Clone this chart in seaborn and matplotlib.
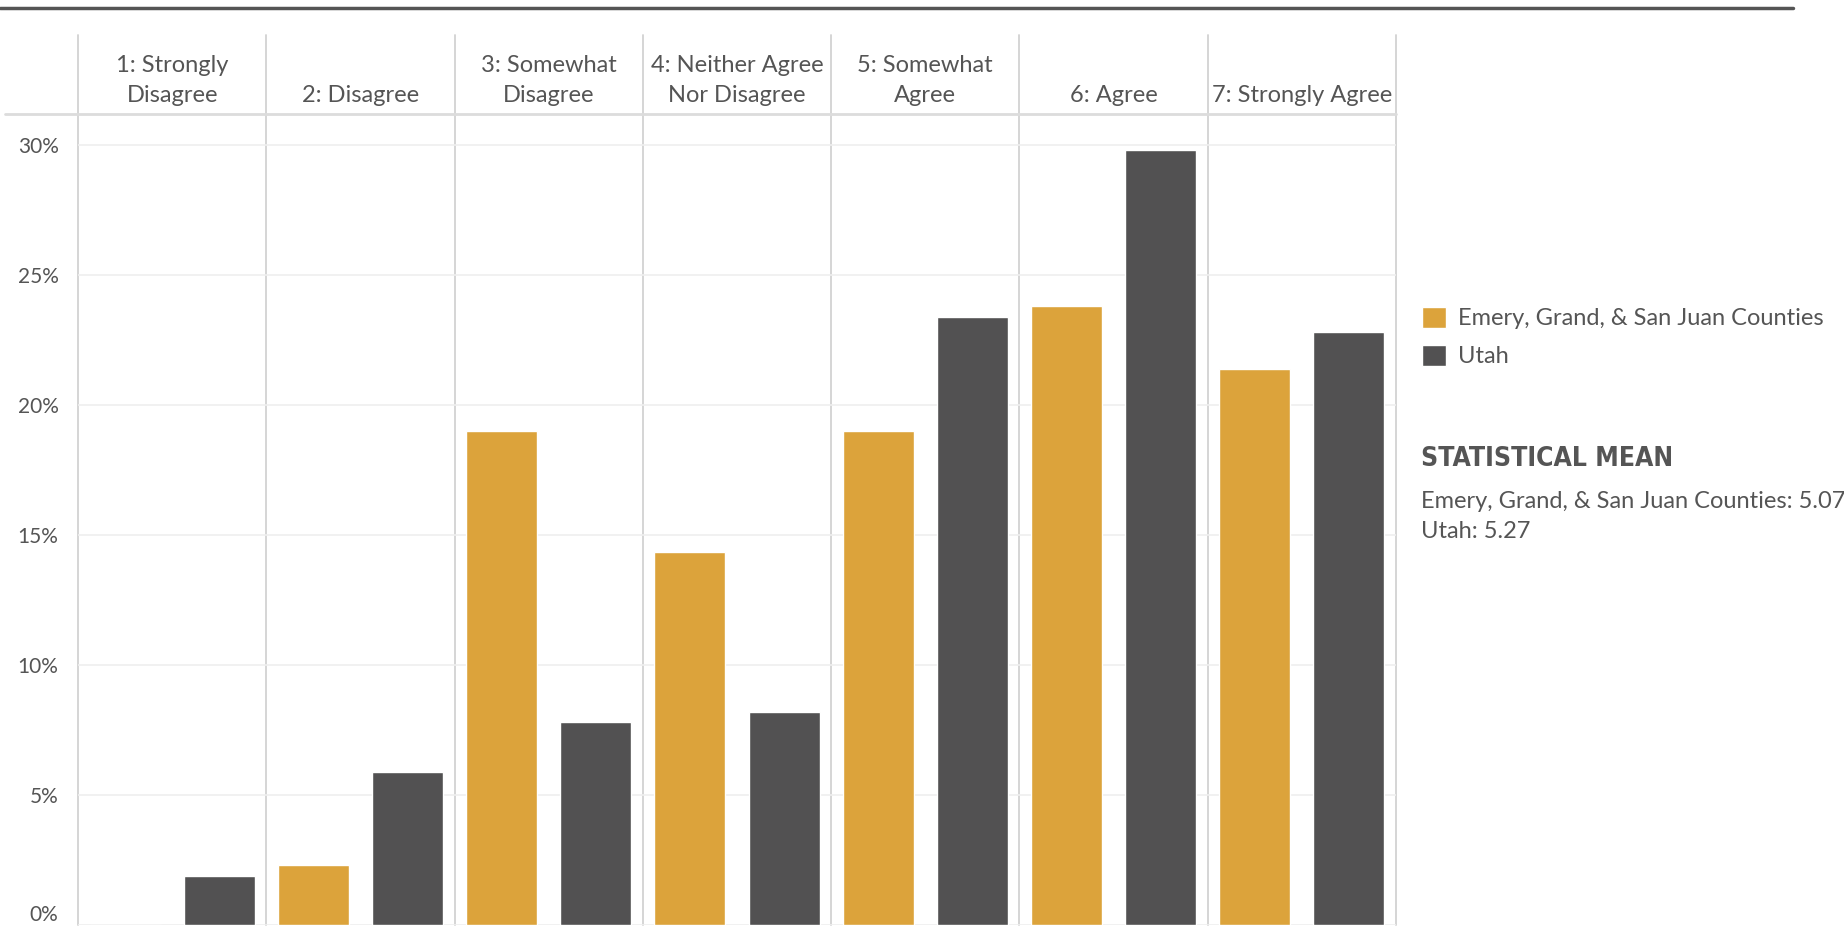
import pandas as pd
import matplotlib.pyplot as plt
import seaborn as sns
from matplotlib import font_manager
from matplotlib.lines import Line2D
from matplotlib.ticker import FuncFormatter

# Data (share of responses, %)
categories = ["1: Strongly\nDisagree", "2: Disagree", "3: Somewhat\nDisagree",
              "4: Neither Agree\nNor Disagree", "5: Somewhat\nAgree", "6: Agree",
              "7: Strongly Agree"]
groups = ["Emery, Grand, & San Juan Counties", "Utah"]
emery = [0.0, 2.3, 19.0, 14.35, 19.0, 23.8, 21.4]
utah = [1.9, 5.9, 7.8, 8.2, 23.4, 29.8, 22.8]
mean_labels = ["Emery, Grand, & San Juan Counties", "Utah"]
mean_values = [5.07, 5.27]
yticks = [0, 5, 10, 15, 20, 25, 30]

colors = {"Emery, Grand, & San Juan Counties": "#DCA33B", "Utah": "#525152"}
text_col = "#555555"

df = pd.DataFrame({
    "category": categories * 2,
    "group": [groups[0]] * len(categories) + [groups[1]] * len(categories),
    "value": emery + utah,
})

sns.set_style("white")
plt.rcParams["font.family"] = ["Lato", "DejaVu Sans"]

# look for a condensed bold face for the "STATISTICAL MEAN" heading
cond = None
for f in font_manager.fontManager.ttflist:
    name = f.name.lower()
    if ("condensed" in name or "narrow" in name or f.stretch in ("condensed", "semi-condensed")) \
            and f.weight in ("bold", 700, "heavy", 800, 900):
        cond = f
        break
if cond is not None:
    head_font = dict(family=[cond.name, "DejaVu Sans"], stretch=cond.stretch,
                     fontweight="bold", fontsize=19)
else:
    head_font = dict(family=["Roboto", "DejaVu Sans"], fontweight="bold", fontsize=18)

W, H = 1844, 926
fig = plt.figure(figsize=(W / 100, H / 100), dpi=100)
ax_left, ax_right, ax_top, ax_bot = 78, 1396, 114, 925
ax = fig.add_axes([ax_left / W, 1 - ax_bot / H, (ax_right - ax_left) / W, (ax_bot - ax_top) / H])

sns.barplot(data=df, x="category", y="value", hue="group", order=categories,
            hue_order=groups, palette=colors, width=1.0, gap=0.245,
            saturation=1, ax=ax)

ax.set_xlim(-0.5, len(categories) - 0.5)
ax.set_ylim(0, 31.2)
ax.set_yticks(yticks)
ax.yaxis.set_major_formatter(FuncFormatter(lambda v, p: f"{v:.0f}%"))
ax.tick_params(axis="y", length=0, pad=14, labelsize=15, labelcolor=text_col)
ax.set_xticks([])
ax.set_xlabel("")
ax.set_ylabel("")
ax.yaxis.grid(True, color="#efefef", lw=1.2)
ax.set_axisbelow(True)
for s in ax.spines.values():
    s.set_visible(False)
ax.get_yticklabels()[0].set_va("bottom")

# column separators running up through the header row
hdr_top = 35
ymax = (ax_bot - hdr_top) / (ax_bot - ax_top)
for i in range(len(categories) + 1):
    ax.axvline(i - 0.5, ymin=0, ymax=ymax, color="#d2d2d2", lw=1.3, clip_on=False, zorder=0)

# header separator line
ax.plot([(5 - ax_left) / (ax_right - ax_left), 1], [1, 1], transform=ax.transAxes,
        color="#dcdcdc", lw=2, clip_on=False)

# header labels
for i, c in enumerate(categories):
    ax.annotate(c, xy=(i, 1), xycoords=("data", "axes fraction"), xytext=(0, 8),
                textcoords="offset pixels", ha="center", va="bottom",
                fontsize=17, color=text_col, linespacing=1.55)

# top rule
fig.add_artist(Line2D([0, 1793 / W], [1 - 8 / H, 1 - 8 / H], color="#555555", lw=2.5))

# legend
handles, labels = ax.get_legend_handles_labels()
ax.legend(handles, labels, loc="center left", bbox_to_anchor=(1401 / W, 1 - 337 / H),
          bbox_transform=fig.transFigure, frameon=False, fontsize=17,
          handlelength=1.0, handleheight=1.0, handletextpad=0.5, labelspacing=0.65,
          labelcolor=text_col)

# statistical mean block
fig.text(1421 / W, 1 - 459 / H, "STATISTICAL MEAN", ha="left", va="center",
         color="#555555", **head_font)
for j, (lab, val) in enumerate(zip(mean_labels, mean_values)):
    fig.text(1421 / W, 1 - (501 + 30 * j) / H, f"{lab}: {val:.2f}",
             ha="left", va="center", fontsize=17, color=text_col)

fig.savefig("out.png", dpi=100)
